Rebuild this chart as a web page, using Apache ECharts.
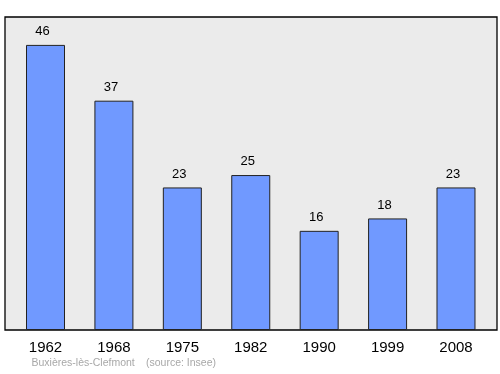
<!DOCTYPE html>
<html><head><meta charset="utf-8">
<script src="https://cdn.jsdelivr.net/npm/echarts@6/dist/echarts.min.js"></script>
<style>html,body{margin:0;padding:0;background:#fff}#c{width:500px;height:374px}</style>
</head><body><div id="c"></div>
<script>
var years = ['1962','1968','1975','1982','1990','1999','2008'];
var population = [46, 37, 23, 25, 16, 18, 23];
var placeName = 'Buxières-lès-Clefmont';
var sourceText = '(source: Insee)';

var chart = echarts.init(document.getElementById('c'), null, {renderer:'canvas'});
chart.setOption({
  animation: false,
  grid: {left: 11.3, right: 9.8, top: 17, bottom: 44, containLabel: false},
  graphic: [
    {type:'rect', z: -10, shape:{x:5, y:17, width:492, height:313}, style:{fill:'#ebebeb', stroke:'#000', lineWidth:1.3}},
    {type:'text', x: 31.5, y: 363.5, style:{text: placeName, fill:'#a8a8a8', font:'10.5px "Liberation Sans", Arial, sans-serif', textVerticalAlign:'middle'}},
    {type:'text', x: 146, y: 363.5, style:{text: sourceText, fill:'#a8a8a8', font:'10.5px "Liberation Sans", Arial, sans-serif', textVerticalAlign:'middle'}}
  ],
  xAxis: {
    type:'category', data: years,
    axisLine:{show:false}, axisTick:{show:false},
    axisLabel:{color:'#000', fontSize:15, fontFamily:'Liberation Sans, Arial, sans-serif', margin:10}
  },
  yAxis: {type:'value', min:0, max:50.5, show:false, splitLine:{show:false}},
  series: [{
    type:'bar', data: population, barWidth: 39,
    itemStyle:{color:'#7099ff', borderColor:'#222', borderWidth:1},
    label:{show:true, position:'top', distance:7, offset:[-3,0], color:'#000', fontSize:13, fontFamily:'Liberation Sans, Arial, sans-serif'}
  }]
});
</script></body></html>
